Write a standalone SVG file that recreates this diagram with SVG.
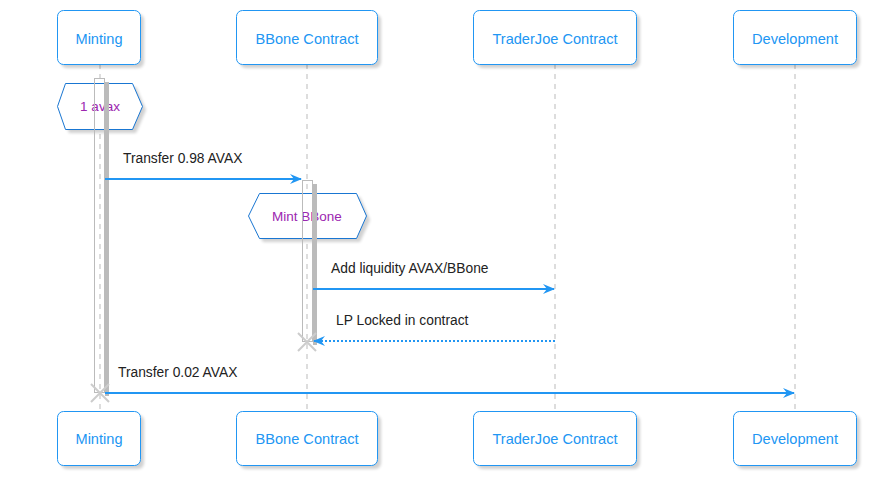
<svg xmlns="http://www.w3.org/2000/svg" width="871" height="481" viewBox="0 0 871 481">
<style>
.box{fill:#fff;stroke:#2196F3;stroke-width:1}
.shadow{fill:#000;opacity:0.18;filter:url(#blur)}
.name{font-family:"Liberation Sans",Arial,sans-serif;font-size:14.6px;fill:#2196F3;text-anchor:middle}
.life{stroke:#bbb;stroke-width:1;stroke-dasharray:5 5}
.act{fill:none;stroke:#bbb;stroke-width:1}
.actsh{fill:#bbb}
.hex{fill:#fff;stroke:#1976D2;stroke-width:1}
.note{font-family:"Liberation Sans",Arial,sans-serif;font-size:13.5px;fill:#9C27B0;text-anchor:middle}
.msg{stroke:#2196F3;stroke-width:2;fill:none}
.lbl{font-family:"Liberation Sans",Arial,sans-serif;font-size:13.8px;fill:#222}
.cross{stroke:#ccc;stroke-width:2}
</style>
<defs>
<filter id="blur" x="-20%" y="-20%" width="140%" height="140%"><feGaussianBlur stdDeviation="1.5"/></filter>
<marker id="ah" viewBox="0 0 12 10" refX="11" refY="5" markerWidth="12" markerHeight="10" markerUnits="userSpaceOnUse" orient="auto">
<path d="M0,0 L12,5 L0,10 L4,5 Z" fill="#2196F3"/>
</marker>
</defs>
<g id="lifelines">
<line class="life" x1="100" y1="64" x2="100" y2="411"/>
<line class="life" x1="307" y1="64" x2="307" y2="411"/>
<line class="life" x1="555" y1="64" x2="555" y2="411"/>
<line class="life" x1="795" y1="64" x2="795" y2="411"/>
</g>
<g id="minting">
<rect class="shadow" x="61" y="14" width="83" height="54" rx="6"/>
<rect class="box" x="57.5" y="10.5" width="83" height="54" rx="6"/>
<text class="name" x="99" y="44">Minting</text>
<rect class="shadow" x="61" y="415" width="83" height="54" rx="6"/>
<rect class="box" x="57.5" y="411.5" width="83" height="54" rx="6"/>
<text class="name" x="99" y="444">Minting</text>
</g>
<g id="bbone">
<rect class="shadow" x="240" y="14" width="141" height="54" rx="6"/>
<rect class="box" x="236.5" y="10.5" width="141" height="54" rx="6"/>
<text class="name" x="307" y="44">BBone Contract</text>
<rect class="shadow" x="240" y="415" width="141" height="54" rx="6"/>
<rect class="box" x="236.5" y="411.5" width="141" height="54" rx="6"/>
<text class="name" x="307" y="444">BBone Contract</text>
</g>
<g id="traderjoe">
<rect class="shadow" x="477" y="14" width="163" height="54" rx="6"/>
<rect class="box" x="473.5" y="10.5" width="163" height="54" rx="6"/>
<text class="name" x="555" y="44">TraderJoe Contract</text>
<rect class="shadow" x="477" y="415" width="163" height="54" rx="6"/>
<rect class="box" x="473.5" y="411.5" width="163" height="54" rx="6"/>
<text class="name" x="555" y="444">TraderJoe Contract</text>
</g>
<g id="development">
<rect class="shadow" x="737" y="14" width="123" height="54" rx="6"/>
<rect class="box" x="733.5" y="10.5" width="123" height="54" rx="6"/>
<text class="name" x="795" y="44">Development</text>
<rect class="shadow" x="737" y="415" width="123" height="54" rx="6"/>
<rect class="box" x="733.5" y="411.5" width="123" height="54" rx="6"/>
<text class="name" x="795" y="444">Development</text>
</g>
<g id="note-avax">
<path class="shadow" d="M69,87 L136,87 L146,110 L136,133 L69,133 L61,110 Z"/>
<path class="hex" d="M65.5,83.5 L132.5,83.5 L142.5,106.5 L132.5,129.5 L65.5,129.5 L57.5,106.5 Z"/>
<text class="note" x="100" y="111">1 avax</text>
</g>
<g id="note-mint">
<path class="shadow" d="M263,197 L360,197 L370,220 L360,242 L263,242 L252,220 Z"/>
<path class="hex" d="M259.5,193.5 L356.5,193.5 L366.5,216 L356.5,238.5 L259.5,238.5 L248.5,216 Z"/>
<text class="note" x="307" y="221">Mint BBone</text>
</g>
<g id="activations">
<rect class="actsh" x="105" y="82" width="4" height="314"/>
<rect class="act" x="94.5" y="78.5" width="10" height="314"/>
<rect class="actsh" x="313" y="184" width="4" height="161"/>
<rect class="act" x="302.5" y="180.5" width="10" height="161"/>
</g>
<g id="connectors">
<line class="msg" x1="105" y1="179" x2="301" y2="179" marker-end="url(#ah)"/>
<text class="lbl" x="123" y="163">Transfer 0.98 AVAX</text>
<line class="msg" x1="313" y1="289" x2="554" y2="289" marker-end="url(#ah)"/>
<text class="lbl" x="331" y="273">Add liquidity AVAX/BBone</text>
<line class="msg" x1="555" y1="341" x2="314" y2="341" stroke-dasharray="2 2" marker-end="url(#ah)"/>
<text class="lbl" x="336" y="325">LP Locked in contract</text>
<line class="msg" x1="105" y1="393" x2="794" y2="393" marker-end="url(#ah)"/>
<text class="lbl" x="118" y="377">Transfer 0.02 AVAX</text>
</g>
<g id="destroys">
<path class="cross" d="M298,333 L316,351 M316,333 L298,351"/>
<path class="cross" d="M91,384 L109,402 M109,384 L91,402"/>
</g>
</svg>
